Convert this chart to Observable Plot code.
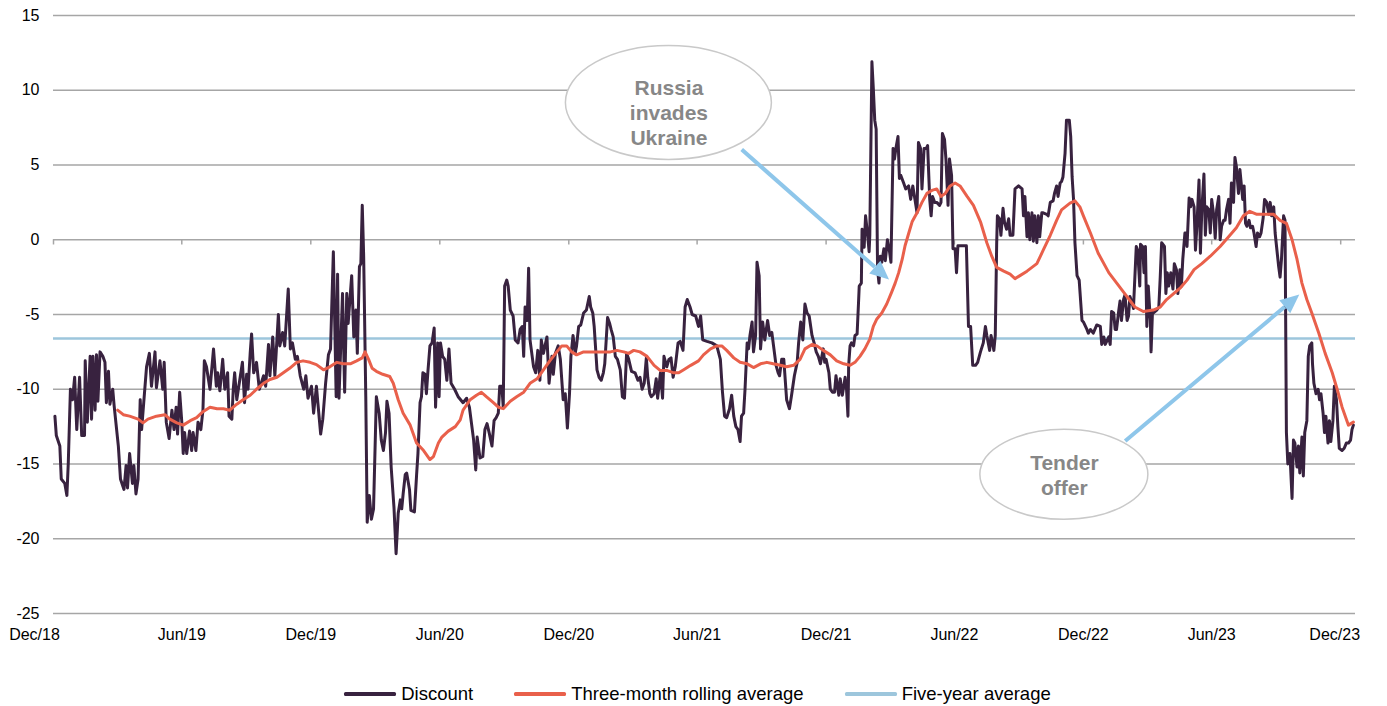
<!DOCTYPE html>
<html><head><meta charset="utf-8">
<script src="https://cdn.jsdelivr.net/npm/d3@7"></script>
<script src="https://cdn.jsdelivr.net/npm/@observablehq/plot@0.6"></script>
<style>
body{margin:0;background:#fff;font-family:"Liberation Sans",Arial,sans-serif;}
#wrap{position:relative;width:1387px;height:706px;overflow:hidden;}
#legend{position:absolute;left:0;top:683px;width:1387px;display:flex;justify-content:center;align-items:center;gap:41px;font-size:18.5px;color:#000;padding-left:8px;box-sizing:border-box;line-height:22px;}
#legend .item{display:flex;align-items:center;gap:5px;}
#legend .sw{width:52px;height:3.5px;border-radius:1.5px;}
</style></head><body>
<div id="wrap"><div id="chart"></div><div id="legend"></div></div>
<script>
// ---- data ----
const discountData = [
["2018-12-03",-11.8],["2018-12-05",-13.1],["2018-12-10",-13.8],["2018-12-12",-16.0],["2018-12-17",-16.3],["2018-12-20",-17.1],["2018-12-22",-14.9],["2018-12-25",-10.0],["2018-12-28",-10.7],["2018-12-31",-9.2],
["2019-01-03",-12.7],["2019-01-07",-9.2],["2019-01-10",-13.1],["2019-01-14",-13.1],["2019-01-15",-8.1],["2019-01-18",-12.2],["2019-01-22",-7.8],["2019-01-24",-12.0],["2019-01-26",-7.8],["2019-01-29",-11.4],["2019-01-31",-7.7],
["2019-02-02",-10.8],["2019-02-05",-7.5],["2019-02-09",-7.8],["2019-02-12",-8.2],["2019-02-14",-10.9],["2019-02-17",-8.8],["2019-02-19",-11.0],["2019-02-23",-10.0],["2019-02-25",-11.1],
["2019-03-03",-13.8],["2019-03-06",-16.0],["2019-03-11",-16.7],["2019-03-14",-15.1],["2019-03-16",-16.6],["2019-03-19",-14.3],["2019-03-23",-16.3],["2019-03-25",-15.1],["2019-03-28",-17.0],["2019-03-31",-16.0],
["2019-04-03",-10.7],["2019-04-05",-12.7],["2019-04-08",-10.9],["2019-04-12",-8.5],["2019-04-16",-7.6],["2019-04-19",-9.8],["2019-04-24",-7.5],["2019-04-26",-9.9],
["2019-05-01",-8.1],["2019-05-05",-10.0],["2019-05-07",-8.2],["2019-05-10",-12.2],["2019-05-14",-13.3],["2019-05-18",-11.4],["2019-05-21",-12.7],["2019-05-24",-11.2],["2019-05-26",-13.0],["2019-05-29",-10.2],
["2019-06-01",-12.2],["2019-06-03",-14.3],["2019-06-05",-12.9],["2019-06-08",-14.3],["2019-06-12",-12.8],["2019-06-15",-14.1],["2019-06-17",-12.9],["2019-06-21",-14.1],["2019-06-24",-12.2],["2019-06-28",-12.7],
["2019-07-01",-11.4],["2019-07-03",-8.1],["2019-07-06",-8.5],["2019-07-11",-10.0],["2019-07-16",-7.3],["2019-07-20",-9.8],["2019-07-22",-8.9],["2019-07-25",-10.1],["2019-07-29",-8.0],
["2019-08-01",-10.0],["2019-08-05",-8.9],["2019-08-07",-11.8],["2019-08-11",-12.0],["2019-08-13",-10.0],["2019-08-15",-8.9],["2019-08-18",-10.7],["2019-08-26",-8.2],["2019-08-29",-10.9],
["2019-09-01",-9.0],["2019-09-03",-10.0],["2019-09-06",-7.6],["2019-09-08",-6.3],["2019-09-11",-8.9],["2019-09-15",-8.2],["2019-09-19",-10.0],["2019-09-25",-9.1],["2019-09-28",-9.8],
["2019-10-02",-7.0],["2019-10-04",-9.1],["2019-10-08",-6.5],["2019-10-11",-9.1],["2019-10-16",-5.0],["2019-10-18",-7.1],["2019-10-22",-6.2],["2019-10-25",-7.1],["2019-10-30",-3.3],
["2019-11-02",-7.3],["2019-11-05",-6.9],["2019-11-09",-8.0],["2019-11-12",-7.8],["2019-11-16",-9.1],["2019-11-21",-10.0],["2019-11-24",-9.1],["2019-11-27",-10.6],
["2019-12-02",-9.8],["2019-12-05",-11.6],["2019-12-09",-9.8],["2019-12-11",-10.9],["2019-12-15",-13.0],["2019-12-18",-12.0],["2019-12-22",-9.6],["2019-12-26",-7.7],["2019-12-29",-7.3],
["2020-01-02",-0.8],["2020-01-06",-10.5],["2020-01-08",-2.3],["2020-01-10",-10.6],["2020-01-15",-3.6],["2020-01-18",-10.2],["2020-01-21",-3.6],["2020-01-23",-5.6],["2020-01-28",-2.4],["2020-01-31",-6.5],
["2020-02-03",-4.7],["2020-02-05",-7.6],["2020-02-08",-1.8],["2020-02-10",-1.6],["2020-02-12",2.3],["2020-02-14",-1.1],["2020-02-17",-10.5],["2020-02-19",-18.9],["2020-02-22",-17.1],["2020-02-25",-18.7],["2020-02-28",-18.0],
["2020-03-03",-10.5],["2020-03-07",-11.6],["2020-03-10",-13.4],["2020-03-13",-14.1],["2020-03-16",-12.9],["2020-03-18",-10.8],["2020-03-21",-11.6],["2020-03-24",-15.2],["2020-03-28",-17.9],["2020-03-31",-21.0],
["2020-04-03",-18.3],["2020-04-06",-17.4],["2020-04-08",-18.0],["2020-04-10",-17.0],["2020-04-13",-15.7],["2020-04-15",-15.6],["2020-04-19",-16.7],["2020-04-21",-18.1],["2020-04-26",-18.2],["2020-04-29",-15.8],
["2020-05-01",-14.3],["2020-05-04",-10.9],["2020-05-06",-10.5],["2020-05-08",-8.9],["2020-05-11",-9.0],["2020-05-13",-10.3],["2020-05-15",-8.9],["2020-05-18",-7.1],["2020-05-21",-6.9],["2020-05-24",-5.9],["2020-05-26",-11.2],["2020-05-29",-6.9],["2020-05-31",-10.5],
["2020-06-02",-6.9],["2020-06-05",-7.8],["2020-06-08",-8.0],["2020-06-11",-9.4],["2020-06-14",-7.3],["2020-06-17",-9.6],["2020-06-22",-10.0],["2020-06-27",-10.5],
["2020-07-04",-10.9],["2020-07-09",-10.6],["2020-07-13",-11.2],["2020-07-16",-12.3],["2020-07-19",-13.4],["2020-07-22",-15.4],["2020-07-24",-13.2],["2020-07-28",-14.6],
["2020-08-01",-14.5],["2020-08-04",-12.7],["2020-08-07",-12.3],["2020-08-10",-12.9],["2020-08-14",-13.8],["2020-08-17",-12.1],["2020-08-20",-11.9],["2020-08-23",-11.6],["2020-08-25",-9.8],["2020-08-28",-9.8],["2020-08-30",-11.2],
["2020-09-01",-3.1],["2020-09-04",-2.7],["2020-09-06",-3.1],["2020-09-09",-4.7],["2020-09-13",-5.1],["2020-09-16",-6.7],["2020-09-20",-6.9],["2020-09-23",-6.0],["2020-09-26",-5.8],["2020-09-28",-7.8],["2020-09-30",-4.5],
["2020-10-03",-5.4],["2020-10-05",-1.9],["2020-10-07",-6.7],["2020-10-12",-8.5],["2020-10-15",-8.9],["2020-10-18",-7.4],["2020-10-21",-9.4],["2020-10-23",-6.7],["2020-10-26",-7.6],["2020-10-31",-6.5],
["2020-11-03",-9.6],["2020-11-07",-7.8],["2020-11-09",-9.0],["2020-11-12",-7.6],["2020-11-16",-7.1],["2020-11-19",-8.0],["2020-11-23",-10.7],["2020-11-26",-10.3],["2020-11-29",-12.6],
["2020-12-02",-10.3],["2020-12-04",-7.8],["2020-12-07",-6.4],["2020-12-10",-7.6],["2020-12-12",-7.1],["2020-12-15",-5.8],["2020-12-18",-5.7],["2020-12-22",-4.9],["2020-12-26",-4.7],["2020-12-30",-3.8],
["2021-01-01",-4.5],["2021-01-04",-4.9],["2021-01-06",-5.8],["2021-01-10",-8.7],["2021-01-13",-9.2],["2021-01-16",-9.4],["2021-01-19",-8.9],["2021-01-21",-8.3],["2021-01-25",-5.2],["2021-01-28",-5.6],["2021-01-30",-6.0],
["2021-02-02",-6.5],["2021-02-05",-7.8],["2021-02-08",-8.0],["2021-02-12",-8.7],["2021-02-15",-10.5],["2021-02-18",-10.6],["2021-02-21",-7.6],["2021-02-24",-8.0],["2021-02-28",-8.8],
["2021-03-05",-8.9],["2021-03-09",-9.4],["2021-03-12",-9.2],["2021-03-15",-10.0],["2021-03-18",-9.6],["2021-03-21",-7.9],["2021-03-23",-9.2],["2021-03-26",-10.3],["2021-03-28",-10.5],
["2021-04-01",-10.3],["2021-04-04",-9.3],["2021-04-06",-10.6],["2021-04-10",-8.9],["2021-04-13",-10.6],["2021-04-15",-7.8],["2021-04-19",-8.5],["2021-04-22",-8.0],["2021-04-25",-7.9],["2021-04-28",-9.2],
["2021-05-01",-8.5],["2021-05-05",-6.9],["2021-05-08",-6.8],["2021-05-12",-7.4],["2021-05-15",-4.5],["2021-05-18",-4.0],["2021-05-22",-4.5],["2021-05-25",-5.0],["2021-05-30",-5.1],
["2021-06-03",-5.8],["2021-06-06",-5.1],["2021-06-09",-6.7],["2021-06-15",-6.8],["2021-06-22",-6.9],["2021-06-29",-7.1],
["2021-07-04",-8.0],["2021-07-07",-10.2],["2021-07-10",-11.8],["2021-07-13",-11.9],["2021-07-17",-11.3],["2021-07-20",-10.4],["2021-07-23",-11.8],["2021-07-26",-12.5],["2021-07-29",-12.7],
["2021-08-01",-13.5],["2021-08-03",-11.8],["2021-08-06",-11.6],["2021-08-08",-10.0],["2021-08-11",-6.9],["2021-08-13",-7.3],["2021-08-15",-6.4],["2021-08-18",-5.5],["2021-08-20",-7.5],["2021-08-23",-6.4],["2021-08-25",-1.5],["2021-08-28",-2.4],["2021-08-30",-7.3],
["2021-09-02",-5.5],["2021-09-05",-6.7],["2021-09-09",-5.4],["2021-09-12",-6.4],["2021-09-15",-6.2],["2021-09-18",-7.3],["2021-09-21",-8.4],["2021-09-24",-8.9],["2021-09-26",-9.1],["2021-09-29",-8.0],
["2021-10-02",-8.0],["2021-10-06",-10.7],["2021-10-10",-11.3],["2021-10-13",-10.4],["2021-10-17",-9.1],["2021-10-21",-8.2],["2021-10-23",-6.9],["2021-10-26",-5.5],["2021-10-29",-6.7],
["2021-11-01",-4.3],["2021-11-04",-4.9],["2021-11-07",-5.1],["2021-11-11",-6.4],["2021-11-14",-6.9],["2021-11-17",-7.5],["2021-11-20",-7.8],["2021-11-23",-8.3],["2021-11-27",-7.3],["2021-11-29",-8.2],
["2021-12-01",-8.0],["2021-12-05",-8.9],["2021-12-07",-10.0],["2021-12-10",-10.2],["2021-12-13",-10.2],["2021-12-15",-9.1],["2021-12-19",-10.4],["2021-12-21",-9.3],["2021-12-24",-10.4],["2021-12-28",-9.2],["2021-12-30",-10.0],
["2022-01-01",-11.8],["2022-01-02",-8.4],["2022-01-04",-7.1],["2022-01-06",-6.9],["2022-01-09",-7.1],["2022-01-11",-6.4],["2022-01-14",-6.3],["2022-01-16",-4.2],["2022-01-17",-3.1],["2022-01-20",-2.9],["2022-01-21",0.7],["2022-01-24",-0.5],["2022-01-26",1.6],["2022-01-29",0.3],["2022-01-31",-0.8],
["2022-02-01",0.3],["2022-02-04",11.9],["2022-02-06",10.1],["2022-02-08",8.0],["2022-02-10",7.4],["2022-02-12",-2.0],["2022-02-14",-2.9],["2022-02-16",-1.1],["2022-02-18",-1.5],["2022-02-21",-0.6],["2022-02-23",-1.4],["2022-02-26",0.0],
["2022-03-01",-0.8],["2022-03-03",-1.5],["2022-03-06",6.1],["2022-03-08",5.4],["2022-03-10",6.1],["2022-03-13",6.9],["2022-03-15",4.1],["2022-03-17",4.3],["2022-03-21",3.8],["2022-03-24",3.4],["2022-03-28",3.6],["2022-03-31",2.7],
["2022-04-03",3.6],["2022-04-06",2.7],["2022-04-09",1.8],["2022-04-11",6.5],["2022-04-14",6.1],["2022-04-16",3.4],["2022-04-19",6.1],["2022-04-22",6.1],["2022-04-24",6.3],["2022-04-27",2.7],["2022-04-29",1.6],
["2022-05-01",2.9],["2022-05-04",2.5],["2022-05-07",2.5],["2022-05-11",2.3],["2022-05-13",2.5],["2022-05-15",7.1],["2022-05-18",6.7],["2022-05-20",5.4],["2022-05-23",2.3],["2022-05-25",5.4],["2022-05-28",4.3],["2022-05-30",-0.6],
["2022-06-02",-0.6],["2022-06-04",-2.2],["2022-06-06",-0.4],["2022-06-09",-0.4],["2022-06-18",-0.4],["2022-06-21",-5.8],["2022-06-24",-5.8],["2022-06-27",-8.4],
["2022-07-01",-8.4],["2022-07-04",-8.2],["2022-07-08",-7.5],["2022-07-12",-6.9],["2022-07-15",-5.8],["2022-07-17",-6.4],["2022-07-21",-7.4],["2022-07-23",-6.4],["2022-07-27",-7.4],["2022-07-29",-6.4],["2022-07-31",-0.2],
["2022-08-01",1.6],["2022-08-04",1.4],["2022-08-06",0.3],["2022-08-09",2.1],["2022-08-11",1.2],["2022-08-14",0.7],["2022-08-17",1.4],["2022-08-19",0.3],["2022-08-23",0.3],["2022-08-26",3.4],["2022-08-31",3.6],
["2022-09-05",3.4],["2022-09-07",1.6],["2022-09-09",2.9],["2022-09-12",0.2],["2022-09-14",1.8],["2022-09-16",0.0],["2022-09-19",1.8],["2022-09-21",-0.1],["2022-09-23",1.6],["2022-09-26",-0.2],["2022-09-28",1.6],["2022-09-30",0.2],
["2022-10-03",1.8],["2022-10-05",1.8],["2022-10-10",1.7],["2022-10-12",1.6],["2022-10-15",2.5],["2022-10-19",2.6],["2022-10-21",3.1],["2022-10-24",3.6],["2022-10-26",2.9],["2022-10-29",3.8],["2022-10-31",3.9],
["2022-11-02",4.2],["2022-11-05",5.8],["2022-11-07",8.0],["2022-11-11",8.0],["2022-11-13",6.9],["2022-11-15",4.2],["2022-11-17",2.7],["2022-11-19",-0.2],["2022-11-22",-2.4],["2022-11-25",-2.7],["2022-11-29",-5.4],
["2022-12-01",-5.5],["2022-12-06",-6.0],["2022-12-08",-6.25],["2022-12-11",-6.0],["2022-12-15",-6.25],["2022-12-20",-5.7],["2022-12-25",-5.8],["2022-12-27",-7.0],["2022-12-30",-6.5],
["2023-01-01",-7.0],["2023-01-06",-6.5],["2023-01-08",-7.0],["2023-01-10",-4.8],["2023-01-13",-4.9],["2023-01-15",-6.0],["2023-01-17",-6.0],["2023-01-20",-4.8],["2023-01-22",-4.1],["2023-01-24",-5.4],["2023-01-27",-4.0],["2023-01-29",-3.7],
["2023-02-01",-5.4],["2023-02-03",-5.1],["2023-02-05",-3.8],["2023-02-08",-4.2],["2023-02-10",-4.6],["2023-02-14",-0.45],["2023-02-16",-0.7],["2023-02-19",-3.1],["2023-02-20",-0.3],["2023-02-23",-0.45],["2023-02-25",-2.2],["2023-02-27",-0.45],
["2023-03-01",-5.8],["2023-03-03",-3.1],["2023-03-06",-5.4],["2023-03-07",-7.5],["2023-03-09",-4.8],["2023-03-10",-4.9],["2023-03-15",-4.7],["2023-03-18",-4.5],["2023-03-20",-2.5],["2023-03-22",-0.2],["2023-03-26",-0.45],["2023-03-28",-3.6],["2023-03-30",-2.2],
["2023-04-01",-3.1],["2023-04-04",-2.2],["2023-04-07",-3.3],["2023-04-09",-1.6],["2023-04-12",-2.0],["2023-04-14",-3.6],["2023-04-17",-2.0],["2023-04-19",-3.1],["2023-04-21",-1.3],["2023-04-24",0.45],["2023-04-26",0.45],["2023-04-27",-0.45],["2023-04-30",2.8],
["2023-05-02",2.2],["2023-05-04",2.7],["2023-05-07",2.2],["2023-05-09",-0.7],["2023-05-11",0.9],["2023-05-14",4.0],["2023-05-16",-0.9],["2023-05-18",2.0],["2023-05-21",4.4],["2023-05-23",0.3],["2023-05-25",2.2],["2023-05-28",2.0],["2023-05-30",0.45],
["2023-06-01",2.7],["2023-06-04",1.6],["2023-06-06",0.1],["2023-06-08",2.0],["2023-06-11",2.9],["2023-06-13",0.0],["2023-06-15",0.9],["2023-06-18",1.3],["2023-06-20",1.3],["2023-06-22",2.0],["2023-06-25",2.7],["2023-06-27",1.1],["2023-06-29",3.8],
["2023-07-02",2.5],["2023-07-04",5.5],["2023-07-06",4.9],["2023-07-09",3.1],["2023-07-11",4.7],["2023-07-12",4.2],["2023-07-15",2.7],["2023-07-17",3.6],["2023-07-19",1.1],["2023-07-21",0.9],["2023-07-24",1.3],["2023-07-26",0.8],["2023-07-29",0.9],["2023-07-31",0.45],
["2023-08-03",-0.45],["2023-08-05",0.45],["2023-08-08",0.2],["2023-08-10",0.45],["2023-08-13",1.45],["2023-08-15",2.7],["2023-08-18",2.5],["2023-08-21",1.7],["2023-08-23",2.5],["2023-08-25",1.6],["2023-08-28",2.2],["2023-08-30",0.45],
["2023-09-01",-0.45],["2023-09-04",-1.8],["2023-09-06",-2.5],["2023-09-08",-1.3],["2023-09-11",1.6],["2023-09-13",1.3],["2023-09-15",-12.9],["2023-09-17",-15.0],["2023-09-20",-14.3],["2023-09-23",-17.3],["2023-09-25",-13.4],["2023-09-27",-13.6],["2023-09-30",-15.2],
["2023-10-02",-13.8],["2023-10-04",-15.6],["2023-10-07",-13.2],["2023-10-09",-15.8],["2023-10-11",-12.9],["2023-10-14",-12.1],["2023-10-16",-7.8],["2023-10-18",-7.1],["2023-10-21",-6.9],["2023-10-22",-8.3],["2023-10-24",-9.6],["2023-10-27",-10.3],["2023-10-30",-10.0],
["2023-11-01",-10.7],["2023-11-03",-10.3],["2023-11-06",-11.6],["2023-11-08",-12.9],["2023-11-10",-11.8],["2023-11-13",-13.6],["2023-11-15",-12.1],["2023-11-17",-13.5],["2023-11-20",-12.1],["2023-11-22",-9.8],["2023-11-25",-10.7],["2023-11-27",-12.5],["2023-11-29",-13.95],
["2023-12-03",-14.1],["2023-12-06",-13.95],["2023-12-09",-13.6],["2023-12-12",-13.6],["2023-12-15",-13.4],["2023-12-17",-12.7],["2023-12-19",-12.4]
];

const rollingData = [
["2019-03-02",-11.4],["2019-03-10",-11.7],["2019-03-19",-11.8],["2019-03-31",-12.0],["2019-04-07",-12.25],["2019-04-14",-12.0],["2019-04-26",-11.8],["2019-05-08",-11.7],["2019-05-15",-12.0],["2019-05-25",-12.25],["2019-06-03",-12.4],["2019-06-13",-12.1],["2019-06-22",-11.9],["2019-07-01",-11.5],["2019-07-11",-11.2],["2019-07-21",-11.3],["2019-07-30",-11.3],["2019-08-08",-11.4],["2019-08-18",-11.0],["2019-08-27",-10.7],["2019-09-06",-10.4],["2019-09-15",-10.0],["2019-09-25",-9.6],["2019-10-04",-9.35],["2019-10-14",-9.2],["2019-10-23",-8.9],["2019-11-01",-8.6],["2019-11-11",-8.2],["2019-11-20",-8.1],["2019-11-30",-8.2],["2019-12-09",-8.35],["2019-12-19",-8.7],["2019-12-28",-8.5],
["2020-01-07",-8.2],["2020-01-16",-8.3],["2020-01-26",-8.3],["2020-02-04",-8.1],["2020-02-12",-7.9],["2020-02-16",-7.5],["2020-02-21",-8.0],["2020-02-26",-8.6],["2020-03-03",-8.8],["2020-03-12",-9.0],["2020-03-22",-9.15],["2020-03-27",-9.6],["2020-04-03",-10.7],["2020-04-10",-11.6],["2020-04-20",-12.4],["2020-04-29",-13.6],["2020-05-09",-14.1],["2020-05-18",-14.7],["2020-05-23",-14.5],["2020-05-30",-13.6],["2020-06-04",-13.2],["2020-06-13",-12.8],["2020-06-23",-12.5],["2020-06-30",-12.05],["2020-07-04",-11.4],["2020-07-14",-10.7],["2020-07-23",-10.4],["2020-07-30",-10.2],["2020-08-06",-10.5],["2020-08-16",-10.9],["2020-08-23",-11.2],["2020-08-30",-11.3],["2020-09-09",-10.8],["2020-09-18",-10.5],["2020-09-28",-10.2],["2020-10-07",-9.6],["2020-10-17",-9.3],["2020-10-26",-8.7],["2020-11-04",-8.1],["2020-11-14",-7.5],["2020-11-21",-7.1],["2020-11-28",-7.1],["2020-12-05",-7.5],["2020-12-12",-7.7],["2020-12-22",-7.5],["2020-12-31",-7.5],
["2021-01-10",-7.5],["2021-01-19",-7.5],["2021-01-29",-7.5],["2021-02-07",-7.4],["2021-02-17",-7.5],["2021-02-24",-7.6],["2021-03-03",-7.4],["2021-03-12",-7.5],["2021-03-22",-7.8],["2021-04-01",-8.4],["2021-04-10",-8.75],["2021-04-20",-8.75],["2021-04-29",-8.9],["2021-05-06",-8.9],["2021-05-13",-8.7],["2021-05-23",-8.4],["2021-06-03",-8.1],["2021-06-10",-7.7],["2021-06-20",-7.3],["2021-06-29",-7.1],["2021-07-06",-7.1],["2021-07-13",-7.4],["2021-07-23",-7.9],["2021-08-01",-8.2],["2021-08-11",-8.3],["2021-08-20",-8.55],["2021-08-30",-8.3],["2021-09-08",-8.2],["2021-09-17",-8.3],["2021-09-27",-8.4],["2021-10-06",-8.5],["2021-10-16",-8.4],["2021-10-25",-8.0],["2021-11-01",-7.3],["2021-11-11",-7.0],["2021-11-18",-7.1],["2021-11-27",-7.4],["2021-12-07",-7.7],["2021-12-16",-8.1],["2021-12-26",-8.3],
["2022-01-04",-8.4],["2022-01-11",-8.2],["2022-01-18",-7.8],["2022-01-25",-7.3],["2022-02-01",-6.65],["2022-02-06",-5.8],["2022-02-11",-5.3],["2022-02-18",-4.9],["2022-02-25",-4.3],["2022-03-04",-3.5],["2022-03-09",-2.9],["2022-03-14",-2.2],["2022-03-19",-1.3],["2022-03-23",-0.4],["2022-03-28",0.4],["2022-04-02",1.2],["2022-04-09",1.8],["2022-04-16",2.5],["2022-04-23",3.1],["2022-04-30",3.3],["2022-05-07",3.4],["2022-05-13",2.9],["2022-05-19",3.1],["2022-05-26",3.6],["2022-06-02",3.8],["2022-06-09",3.6],["2022-06-19",2.9],["2022-06-28",2.3],["2022-07-08",1.2],["2022-07-17",-0.2],["2022-07-24",-1.1],["2022-07-31",-1.85],["2022-08-10",-2.1],["2022-08-19",-2.3],["2022-08-26",-2.6],["2022-09-02",-2.4],["2022-09-12",-2.1],["2022-09-26",-1.6],["2022-10-05",-0.7],["2022-10-15",0.3],["2022-10-24",1.3],["2022-10-31",2.0],["2022-11-12",2.45],["2022-11-19",2.6],["2022-11-26",2.2],["2022-12-01",1.6],["2022-12-11",0.45],["2022-12-22",-0.9],
["2023-01-06",-2.2],["2023-01-27",-3.5],["2023-02-12",-4.5],["2023-02-24",-4.8],["2023-03-10",-4.7],["2023-03-20",-4.5],["2023-03-29",-4.0],["2023-04-08",-3.6],["2023-04-18",-3.2],["2023-04-27",-2.7],["2023-05-07",-2.0],["2023-05-18",-1.6],["2023-05-30",-1.1],["2023-06-13",-0.45],["2023-06-25",0.2],["2023-07-06",0.8],["2023-07-16",1.6],["2023-07-25",1.9],["2023-08-04",1.7],["2023-08-18",1.7],["2023-08-28",1.7],["2023-09-06",1.3],["2023-09-15",1.1],["2023-09-23",0.0],["2023-09-30",-1.3],["2023-10-07",-2.9],["2023-10-14",-4.0],["2023-10-21",-4.9],["2023-10-31",-6.25],["2023-11-09",-7.6],["2023-11-19",-8.9],["2023-11-26",-10.0],["2023-12-03",-11.2],["2023-12-12",-12.4],["2023-12-19",-12.2]
];

const fiveYearAverage = -6.6;
const yTicks = [-25, -20, -15, -10, -5, 0, 5, 10, 15];
const xTickDates = ["2018-12-01","2019-06-01","2019-12-01","2020-06-01","2020-12-01","2021-06-01","2021-12-01","2022-06-01","2022-12-01","2023-06-01","2023-12-01"];
const xTickLabels = ["Dec/18","Jun/19","Dec/19","Jun/20","Dec/20","Jun/21","Dec/21","Jun/22","Dec/22","Jun/23","Dec/23"];
const xDomain = ["2018-12-01","2023-12-22"];
const yDomain = [-25, 15];
const seriesNames = ["Discount","Three-month rolling average","Five-year average"];

const calloutLabels = ["Russia\ninvades\nUkraine", "Tender\noffer"];
const calloutCentres = [["2021-04-22", 9.15], ["2022-11-04", -15.72]];
const calloutTextAt = [["2021-04-22", 8.53], ["2022-11-04", -15.72]];
const arrowFrom = [["2021-08-04", 6.0], ["2023-01-30", -13.5]];
const arrowTo = [["2022-03-01", -2.7], ["2023-10-04", -3.7]];

// ---- styles ----
const colors = {discount:"#38223f", rolling:"#e9604b", five:"#9dc6dc", grid:"#a6a6a6", arrow:"#8ec6ea", callText:"#878787", callStroke:"#c9c9c9"};
const calloutSize = [[103, 57], [84, 45]];

const parse = d3.utcParse("%Y-%m-%d");
const discount = discountData.map(([d, v]) => ({date: parse(d), value: v}));
const rolling = rollingData.map(([d, v]) => ({date: parse(d), value: v}));
const xTicks = xTickDates.map(parse);
const labelOf = new Map(xTicks.map((d, i) => [+d, xTickLabels[i]]));
const callText = calloutLabels.map((t, i) => ({label: t, date: parse(calloutTextAt[i][0]), value: calloutTextAt[i][1]}));

function annotationShapes(index, scales) {
  const g = d3.create("svg:g");
  arrowFrom.forEach((f, i) => {
    const t = arrowTo[i];
    const x1 = scales.x(parse(f[0])), y1 = scales.y(f[1]);
    const x2 = scales.x(parse(t[0])), y2 = scales.y(t[1]);
    const a = Math.atan2(y2 - y1, x2 - x1), head = 19, half = 8.5;
    const bx = x2 - head * Math.cos(a), by = y2 - head * Math.sin(a);
    g.append("line").attr("x1", x1).attr("y1", y1).attr("x2", bx).attr("y2", by)
      .attr("stroke", colors.arrow).attr("stroke-width", 4);
    g.append("path").attr("fill", colors.arrow)
      .attr("d", `M${x2},${y2}L${bx + half*Math.sin(a)},${by - half*Math.cos(a)}L${bx - half*Math.sin(a)},${by + half*Math.cos(a)}Z`);
  });
  calloutCentres.forEach((c, i) => {
    g.append("ellipse").attr("cx", scales.x(parse(c[0]))).attr("cy", scales.y(c[1]))
      .attr("rx", calloutSize[i][0]).attr("ry", calloutSize[i][1])
      .attr("fill", "#fff").attr("stroke", colors.callStroke).attr("stroke-width", 1.5);
  });
  return g.node();
}

const fmt = d => labelOf.get(+d);
const chart = Plot.plot({
  width: 1387, height: 662,
  marginLeft: 53, marginRight: 32, marginTop: 15, marginBottom: 49,
  style: {fontFamily: "'Liberation Sans', Arial, sans-serif", fontSize: "16px", color: "#000", background: "#fff"},
  x: {type: "utc", domain: xDomain.map(parse)},
  y: {domain: yDomain},
  marks: [
    Plot.ruleY(yTicks, {stroke: colors.grid, strokeWidth: 1.5}),
    Plot.ruleX(xTicks, {y1: 0, y2: -0.35, stroke: colors.grid, strokeWidth: 1.5}),
    Plot.axisY({ticks: yTicks, tickSize: 0, tickPadding: 14, tickFormat: d => String(d), label: null}),
    Plot.axisX({ticks: xTicks.slice(1, -1), tickSize: 0, tickPadding: 15, tickFormat: fmt, label: null}),
    Plot.axisX({ticks: xTicks.slice(0, 1), tickSize: 0, tickPadding: 15, tickFormat: fmt, label: null, dx: -19}),
    Plot.axisX({ticks: xTicks.slice(-1), tickSize: 0, tickPadding: 15, tickFormat: fmt, label: null, dx: -6}),
    Plot.ruleY([fiveYearAverage], {stroke: colors.five, strokeWidth: 2.5}),
    Plot.line(discount, {x: "date", y: "value", stroke: colors.discount, strokeWidth: 3}),
    Plot.line(rolling, {x: "date", y: "value", stroke: colors.rolling, strokeWidth: 3}),
    annotationShapes,
    Plot.text(callText, {x: "date", y: "value", text: "label", fontWeight: "bold", fontSize: 21, fill: colors.callText, lineHeight: 1.2})
  ]
});
document.getElementById("chart").appendChild(chart);

const legend = document.getElementById("legend");
const legendColors = [colors.discount, colors.rolling, colors.five];
seriesNames.forEach((n, i) => {
  const it = document.createElement("div"); it.className = "item";
  const sw = document.createElement("div"); sw.className = "sw"; sw.style.background = legendColors[i];
  const tx = document.createElement("span"); tx.textContent = n;
  it.appendChild(sw); it.appendChild(tx); legend.appendChild(it);
});
</script>
</body></html>
